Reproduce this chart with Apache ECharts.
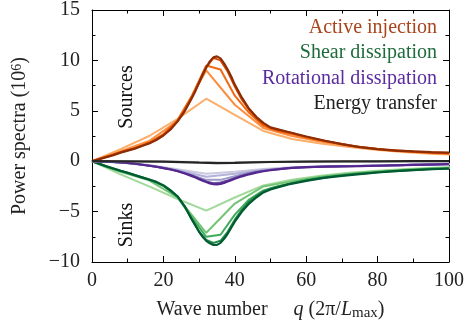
<!DOCTYPE html>
<html><head><meta charset="utf-8">
<script src="https://cdn.jsdelivr.net/npm/echarts@6/dist/echarts.min.js"></script>
<style>html,body{margin:0;padding:0;background:#fff}#c{width:467px;height:335px}</style>
</head><body><div id="c"></div>
<script>
// wave-number grids (units of 2π/Lmax)
const qStep8 = [0,8,16,24,32,40,48,56,64,72,80,88,96,104];
const qStep4 = [0,4,8,12,16,20,24,28,32,36,40,44,48,52,56,60,64,68,72,76,80,84,88,92,96,100];
const qStep2 = [0,2,4,6,8,10,12,14,16,18,20,22,24,26,28,30,32,34,36,38,40,42,44,46,48,50,52,54,56,58,60,62,64,66,68,70,72,74,76,78,80,82,84,86,88,90,92,94,96,98,100];
const qFine = [0,2,4,6,8,10,12,14,16,18,20,22,24,26,28,29,30,31,32,33,34,35,36,37,38,39,40,42,44,46,48,50,55,60,65,70,75,80,85,90,95,100];
const qEnergy = [0,10,20,25,30,35,40,45,50,60,70,80,90,100];

// Active injection (sources)
const active1 = [0,1.2,2.5,4.2,6.2,4.6,3.0,2.2,1.75,1.4,1.1,0.9,0.72,0.62];
const active2 = [0,1.0,2.0,4.0,9.0,5.6,3.3,2.5,1.95,1.5,1.15,0.95,0.78,0.7];
const active3 = [0,0.45,0.9,1.3,1.85,2.7,4.1,6.5,9.5,9.1,6.5,4.8,3.5,3.0,2.7,2.35,2.05,1.8,1.55,1.35,1.2,1.05,0.97,0.9,0.82,0.78];
const active4 = [0,0.22,0.42,0.63,0.88,1.08,1.3,1.55,1.8,2.15,2.6,3.2,4.0,5.0,6.3,7.8,9.3,10.25,10.0,8.9,7.4,6.1,5.1,4.3,3.7,3.3,3.1,2.95,2.8,2.6,2.42,2.25,2.1,1.95,1.82,1.7,1.58,1.47,1.38,1.3,1.22,1.15,1.1,1.05,1.0,0.96,0.92,0.88,0.85,0.82,0.8];
const active5 = [0,0.2,0.4,0.6,0.85,1.05,1.25,1.5,1.75,2.1,2.55,3.15,3.95,5.0,6.3,7.0,7.8,8.6,9.3,9.9,10.3,10.4,10.2,9.7,9.1,8.4,7.6,6.3,5.2,4.4,3.8,3.35,2.9,2.45,2.05,1.7,1.4,1.2,1.05,0.97,0.9,0.85];

// Shear dissipation (sinks)
const shear1 = [0,-1.3,-2.5,-3.75,-4.9,-3.6,-2.4,-1.85,-1.45,-1.15,-0.95,-0.78,-0.65,-0.55];
const shear2 = [0,-1.05,-1.9,-3.6,-7.1,-4.2,-2.5,-2.0,-1.55,-1.25,-1.0,-0.85,-0.7,-0.62];
const shear3 = [0,-0.55,-1.0,-1.4,-1.85,-2.45,-3.6,-5.6,-7.5,-7.3,-5.3,-3.8,-2.9,-2.5,-2.15,-1.85,-1.62,-1.45,-1.3,-1.18,-1.06,-0.96,-0.88,-0.8,-0.73,-0.68];
const shear4 = [0,-0.25,-0.5,-0.72,-0.95,-1.15,-1.38,-1.6,-1.82,-2.05,-2.4,-2.9,-3.5,-4.5,-5.8,-7.0,-7.8,-8.1,-7.9,-7.0,-5.8,-4.8,-4.0,-3.45,-3.0,-2.7,-2.5,-2.35,-2.2,-2.05,-1.92,-1.8,-1.7,-1.6,-1.5,-1.42,-1.35,-1.28,-1.22,-1.16,-1.1,-1.05,-1.0,-0.96,-0.92,-0.88,-0.84,-0.8,-0.77,-0.74,-0.71];
const shear5 = [0,-0.25,-0.5,-0.72,-0.95,-1.15,-1.38,-1.6,-1.82,-2.05,-2.4,-2.9,-3.5,-4.5,-5.8,-6.4,-7.0,-7.5,-7.9,-8.15,-8.3,-8.3,-8.1,-7.7,-7.2,-6.6,-6.0,-5.0,-4.2,-3.6,-3.1,-2.8,-2.3,-1.95,-1.65,-1.45,-1.28,-1.12,-0.98,-0.88,-0.8,-0.75];

// Rotational dissipation (sinks)
const rot1 = [0,-0.1,-0.38,-0.8,-1.25,-1.05,-0.78,-0.6,-0.52,-0.47,-0.42,-0.36,-0.3,-0.27];
const rot2 = [0,-0.12,-0.42,-0.9,-1.55,-1.25,-0.85,-0.64,-0.54,-0.48,-0.43,-0.37,-0.31,-0.28];
const rot3 = [0,-0.05,-0.12,-0.25,-0.43,-0.65,-0.95,-1.38,-1.85,-1.85,-1.5,-1.15,-0.92,-0.78,-0.66,-0.58,-0.54,-0.51,-0.48,-0.46,-0.43,-0.4,-0.37,-0.34,-0.31,-0.29];
const rot4 = [0,-0.02,-0.05,-0.08,-0.12,-0.18,-0.25,-0.34,-0.44,-0.54,-0.67,-0.8,-0.97,-1.18,-1.42,-1.72,-2.0,-2.18,-2.12,-1.9,-1.65,-1.42,-1.24,-1.08,-0.96,-0.86,-0.79,-0.73,-0.68,-0.63,-0.59,-0.57,-0.55,-0.53,-0.52,-0.5,-0.49,-0.48,-0.47,-0.46,-0.44,-0.43,-0.41,-0.4,-0.38,-0.36,-0.35,-0.33,-0.32,-0.31,-0.29];
const rot5 = [0,-0.02,-0.05,-0.08,-0.12,-0.18,-0.25,-0.35,-0.45,-0.55,-0.68,-0.82,-1.0,-1.22,-1.48,-1.62,-1.78,-1.93,-2.07,-2.2,-2.28,-2.3,-2.25,-2.15,-2.02,-1.88,-1.74,-1.5,-1.3,-1.14,-1.0,-0.9,-0.68,-0.58,-0.54,-0.51,-0.49,-0.45,-0.41,-0.37,-0.33,-0.3];

// Energy transfer
const energyLight = [0,-0.01,-0.03,-0.05,-0.09,-0.12,-0.1,-0.07,-0.05,-0.03,-0.02,-0.01,0,0];
const energyDark = [0,-0.02,-0.05,-0.09,-0.15,-0.2,-0.17,-0.12,-0.08,-0.04,-0.02,-0.01,0,0];

const xTicks = [0,20,40,60,80,100];
const yTicks = [-10,-5,0,5,10,15];
const legendLabels = ['Active injection','Shear dissipation','Rotational dissipation','Energy transfer'];
const legendColors = ['#a8431a','#1e6b3c','#5a2ca0','#222222'];

const FONT = '"Liberation Serif", "DejaVu Serif", serif';
const zip = (q, v) => v.map((y, i) => [q[i], y]);
const line = (q, v, color, width) => ({
  type: 'line', data: zip(q, v), symbol: 'none', showSymbol: false,
  lineStyle: { color: color, width: width }, clip: true, silent: true, z: 2
});

const series = [
  line(qStep8, active1, '#fdae6b', 2),
  line(qStep8, active2, '#fd8d3c', 2),
  line(qStep4, active3, '#f16913', 2),
  line(qStep2, active4, '#d94801', 2),
  line(qFine, active5, '#8c2d04', 2.2),
  line(qStep8, shear1, '#a1d99b', 2),
  line(qStep8, shear2, '#74c476', 2),
  line(qStep4, shear3, '#41ab5d', 2),
  line(qStep2, shear4, '#238b45', 2),
  line(qFine, shear5, '#005a32', 2.2),
  line(qStep8, rot1, '#cbc9e2', 2),
  line(qStep8, rot2, '#b3b1d8', 2),
  line(qStep4, rot3, '#9e9ac8', 2),
  line(qStep2, rot4, '#6a51a3', 2),
  line(qFine, rot5, '#54278f', 2.2),
  line(qEnergy, energyLight, '#bdbdbd', 2),
  line(qEnergy, energyDark, '#252525', 2.2)
];

const axisCommon = {
  axisLine: { show: true, onZero: false, lineStyle: { color: '#000', width: 1 } },
  axisTick: { show: true, inside: true, length: 6, lineStyle: { color: '#000', width: 1 } },
  minorTick: { show: true, splitNumber: 2, length: 3.5, lineStyle: { color: '#000', width: 1 } },
  splitLine: { show: false }
};

const chart = echarts.init(document.getElementById('c'), null, { renderer: 'canvas' });
chart.setOption({
  animation: false,
  backgroundColor: '#fff',
  grid: { left: 92, right: 14, top: 9, bottom: 73, containLabel: false },
  xAxis: [
    Object.assign({}, axisCommon, {
      type: 'value', min: xTicks[0], max: xTicks[xTicks.length - 1], interval: 20, position: 'bottom',
      axisLabel: { fontFamily: FONT, fontSize: 20, color: '#222', margin: 9 },
      name: '{a|Wave number}{g| }{i|q} {a|(2π/}{i|L}{s|max}{a|)}',
      nameLocation: 'middle', nameGap: 37,
      nameTextStyle: {
        fontFamily: FONT, fontSize: 20, color: '#222',
        rich: {
          a: { fontFamily: FONT, fontSize: 20, color: '#222' },
          g: { fontFamily: FONT, fontSize: 20, color: '#222', width: 26 },
          i: { fontFamily: FONT, fontSize: 20, fontStyle: 'italic', color: '#222' },
          s: { fontFamily: FONT, fontSize: 15, color: '#222', verticalAlign: 'bottom', padding: [7, 0, 0, 0] }
        }
      }
    }),
    Object.assign({}, axisCommon, {
      type: 'value', min: 0, max: 100, interval: 20, position: 'top',
      axisLabel: { show: false }
    })
  ],
  yAxis: [
    Object.assign({}, axisCommon, {
      type: 'value', min: yTicks[0], max: yTicks[yTicks.length - 1], interval: 5, position: 'left',
      axisLabel: { fontFamily: FONT, fontSize: 20, color: '#222', margin: 12,
        formatter: v => String(v).replace('-', '\u2212') },
      name: '{a|Power spectra (10}{p|6}{a|)}',
      nameLocation: 'middle', nameGap: 62, nameRotate: 90,
      nameTextStyle: {
        fontFamily: FONT, fontSize: 20, color: '#222',
        rich: {
          a: { fontFamily: FONT, fontSize: 20, color: '#222' },
          p: { fontFamily: FONT, fontSize: 14, color: '#222', verticalAlign: 'top', padding: [0, 0, 6, 0] }
        }
      }
    }),
    Object.assign({}, axisCommon, {
      type: 'value', min: -10, max: 15, interval: 5, position: 'right',
      axisLabel: { show: false }
    })
  ],
  graphic: [
    ...legendLabels.map((t, i) => ({
      type: 'text', x: 437, y: [28, 53, 79, 104][i], z: 10, silent: true,
      style: { text: t, fill: legendColors[i], font: '20px ' + FONT, align: 'right', verticalAlign: 'middle' }
    })),
    { type: 'text', x: 127, y: 97, rotation: Math.PI / 2, z: 10, silent: true,
      style: { text: 'Sources', fill: '#111', font: '20px ' + FONT, align: 'center', verticalAlign: 'middle' } },
    { type: 'text', x: 127, y: 225, rotation: Math.PI / 2, z: 10, silent: true,
      style: { text: 'Sinks', fill: '#111', font: '20px ' + FONT, align: 'center', verticalAlign: 'middle' } }
  ],
  series: series
});
</script>
</body></html>
